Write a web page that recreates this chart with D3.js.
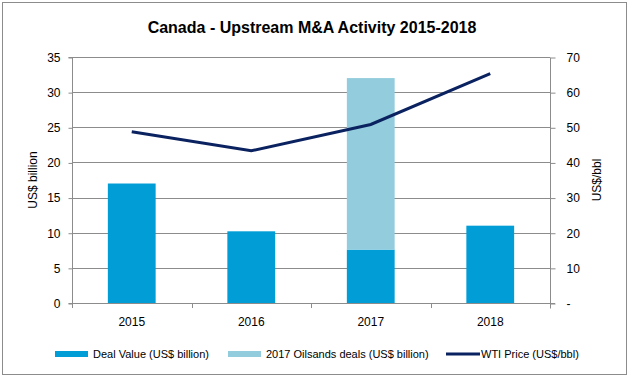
<!DOCTYPE html>
<html>
<head>
<meta charset="utf-8">
<script src="https://cdn.jsdelivr.net/npm/d3@7"></script>
<style>
  body { margin: 0; background: #fff; }
  text { font-family: "Liberation Sans", Arial, sans-serif; fill: #000; }
</style>
</head>
<body>
<div id="chart"></div>
<script>
// Chart data
const years = ['2015', '2016', '2017', '2018'];
const dealValue = [17.0, 10.2, 7.6, 11.0];
const oilsands = [0, 0, 24.4, 0];
const wtiPrice = [48.7, 43.3, 50.8, 65.3];
const leftTicks = [0, 5, 10, 15, 20, 25, 30, 35];
const rightTicks = [0, 10, 20, 30, 40, 50, 60, 70];

const width = 629, height = 378;
const margin = { top: 57, right: 79, bottom: 75, left: 72 };
const x0 = margin.left, x1 = width - margin.right;
const y0 = height - margin.bottom, y1 = margin.top;

const svg = d3.select('#chart')
  .append('svg')
  .attr('width', width)
  .attr('height', height);

// outer frame
svg.append('rect')
  .attr('x', 2.5).attr('y', 2.5)
  .attr('width', width - 5).attr('height', height - 6)
  .attr('fill', '#fff')
  .attr('stroke', '#8c8c8c');

const x = d3.scaleBand().domain(years).range([x0, x1]).paddingInner(0.6).paddingOuter(0.3);
const yL = d3.scaleLinear().domain([0, 35]).range([y0, y1]);
const yR = d3.scaleLinear().domain([0, 70]).range([y0, y1]);

// gridlines
svg.append('g')
  .selectAll('line')
  .data(leftTicks.slice(1))
  .enter()
  .append('line')
  .attr('x1', x0).attr('x2', x1)
  .attr('y1', d => Math.round(yL(d)) + 0.5)
  .attr('y2', d => Math.round(yL(d)) + 0.5)
  .attr('stroke', '#8c8c8c');

// left axis
const leftAxis = svg.append('g')
  .attr('transform', `translate(${x0 + 0.5},0.5)`)
  .call(d3.axisLeft(yL).tickValues(leftTicks).tickSize(4).tickPadding(8));

// right axis
const rightAxis = svg.append('g')
  .attr('transform', `translate(${x1 + 0.5},0.5)`)
  .call(d3.axisRight(yR).tickValues(rightTicks).tickSize(5).tickPadding(11)
    .tickFormat(d => d === 0 ? '-' : d));

// bottom axis, ticks between categories
const bottom = svg.append('g');
bottom.append('line')
  .attr('x1', x0).attr('x2', x1 + 5)
  .attr('y1', Math.round(y0) + 0.5).attr('y2', Math.round(y0) + 0.5)
  .attr('stroke', '#8c8c8c');
const step = (x1 - x0) / years.length;
bottom.selectAll('line.tk')
  .data(d3.range(years.length + 1))
  .enter()
  .append('line')
  .attr('class', 'tk')
  .attr('x1', i => Math.round(x0 + i * step) + 0.5)
  .attr('x2', i => Math.round(x0 + i * step) + 0.5)
  .attr('y1', Math.round(y0)).attr('y2', Math.round(y0) + 5)
  .attr('stroke', '#8c8c8c');
bottom.selectAll('text')
  .data(years)
  .enter()
  .append('text')
  .attr('x', d => x(d) + x.bandwidth() / 2)
  .attr('y', y0 + 23)
  .attr('text-anchor', 'middle')
  .style('font-size', '12px')
  .text(d => d);

[leftAxis, rightAxis].forEach(g => {
  g.select('.domain').attr('stroke', '#8c8c8c');
  g.selectAll('.tick line').attr('stroke', '#8c8c8c');
  g.selectAll('.tick text').style('font-size', '12px').attr('fill', '#000');
});
leftAxis.select('.domain').attr('d', `M-4,${y0}H0V${y1}H-4`);
rightAxis.select('.domain').attr('d', `M0,${y0 + 5}V${y1}`);

// bars
svg.append('g')
  .selectAll('rect')
  .data(years)
  .enter()
  .append('rect')
  .attr('x', d => x(d))
  .attr('width', x.bandwidth())
  .attr('y', (d, i) => yL(dealValue[i]))
  .attr('height', (d, i) => yL(0) - yL(dealValue[i]))
  .attr('fill', '#009dd6');

svg.append('g')
  .selectAll('rect')
  .data(years.filter((d, i) => oilsands[i] > 0))
  .enter()
  .append('rect')
  .attr('x', d => x(d))
  .attr('width', x.bandwidth())
  .attr('y', d => { const i = years.indexOf(d); return yL(dealValue[i] + oilsands[i]); })
  .attr('height', d => { const i = years.indexOf(d); return yL(dealValue[i]) - yL(dealValue[i] + oilsands[i]); })
  .attr('fill', '#93cddd');

// WTI line
const line = d3.line()
  .x((d, i) => x(years[i]) + x.bandwidth() / 2)
  .y(d => yR(d));
svg.append('path')
  .datum(wtiPrice)
  .attr('d', line)
  .attr('fill', 'none')
  .attr('stroke', '#0b2260')
  .attr('stroke-width', 3);

// titles
svg.append('text')
  .attr('x', 312).attr('y', 33)
  .attr('text-anchor', 'middle')
  .style('font-size', '16px')
  .style('font-weight', 'bold')
  .text('Canada - Upstream M&A Activity 2015-2018');

svg.append('text')
  .attr('transform', `translate(37,${(y0 + y1) / 2}) rotate(-90)`)
  .attr('text-anchor', 'middle')
  .style('font-size', '12px')
  .text('US$ billion');

svg.append('text')
  .attr('transform', `translate(601,${(y0 + y1) / 2}) rotate(-90)`)
  .attr('text-anchor', 'middle')
  .style('font-size', '12px')
  .text('US$/bbl');

// legend
const legendItems = [
  { label: 'Deal Value (US$ billion)', color: '#009dd6', type: 'bar', x: 55 },
  { label: '2017 Oilsands deals (US$ billion)', color: '#93cddd', type: 'bar', x: 228 },
  { label: 'WTI Price (US$/bbl)', color: '#0b2260', type: 'line', x: 446 }
];
const legend = svg.append('g').attr('transform', 'translate(0,354)');
legendItems.forEach(item => {
  if (item.type === 'bar') {
    legend.append('rect')
      .attr('x', item.x).attr('y', -3)
      .attr('width', 33).attr('height', 6)
      .attr('fill', item.color);
  } else {
    legend.append('line')
      .attr('x1', item.x).attr('x2', item.x + 34)
      .attr('y1', 0).attr('y2', 0)
      .attr('stroke', item.color)
      .attr('stroke-width', 3);
  }
  legend.append('text')
    .attr('x', item.x + (item.type === 'bar' ? 38 : 35))
    .attr('y', 4)
    .style('font-size', '11px')
    .text(item.label);
});
</script>
</body>
</html>
